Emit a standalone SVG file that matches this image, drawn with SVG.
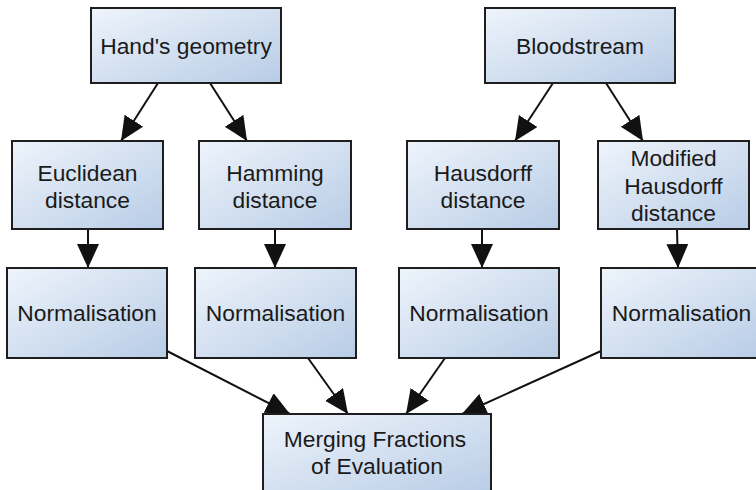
<svg xmlns="http://www.w3.org/2000/svg" width="756" height="490" viewBox="0 0 756 490">
  <style>
    .box { fill: url(#boxFill); stroke: #1e1e1e; stroke-width: 2; }
    .lbl { font-family: "Liberation Sans", Arial, sans-serif; font-size: 22.8px; fill: #1a1a1a; text-anchor: middle; }
    .edge { stroke: #111; stroke-width: 2; fill: none; marker-end: url(#head); }
  </style>
  <defs>
    <linearGradient id="boxFill" x1="0" y1="0" x2="1" y2="1">
      <stop offset="0" stop-color="#eef4fb"/>
      <stop offset="1" stop-color="#b8cce6"/>
    </linearGradient>
    <marker id="head" markerUnits="userSpaceOnUse" markerWidth="26" markerHeight="24" refX="24" refY="11" orient="auto">
      <path d="M0,0 L24,11 L0,22 z" fill="#111"/>
    </marker>
  </defs>

  <rect width="756" height="490" fill="#ffffff"/>

  <!-- connectors -->
  <g id="connectors">
    <line class="edge" x1="158" y1="83" x2="121" y2="141"/>
    <line class="edge" x1="210" y1="83" x2="247" y2="141"/>
    <line class="edge" x1="553" y1="83" x2="515" y2="141"/>
    <line class="edge" x1="606" y1="83" x2="643" y2="141"/>
    <line class="edge" x1="88" y1="229" x2="88" y2="268"/>
    <line class="edge" x1="275" y1="229" x2="275" y2="268"/>
    <line class="edge" x1="482" y1="229" x2="482" y2="268"/>
    <line class="edge" x1="677" y1="229" x2="678" y2="268"/>
    <line class="edge" x1="167" y1="351" x2="290" y2="414"/>
    <line class="edge" x1="308" y1="358" x2="348" y2="414"/>
    <line class="edge" x1="445" y1="358" x2="406" y2="414"/>
    <line class="edge" x1="601" y1="351" x2="462" y2="414"/>
  </g>

  <!-- top row -->
  <g id="hands-geometry">
    <rect class="box" x="91" y="8" width="190" height="75"/>
    <text class="lbl" x="186" y="54">Hand's geometry</text>
  </g>
  <g id="bloodstream">
    <rect class="box" x="485" y="8" width="190" height="75"/>
    <text class="lbl" x="580" y="54">Bloodstream</text>
  </g>

  <!-- distance measures -->
  <g id="euclidean">
    <rect class="box" x="12" y="141" width="151" height="88"/>
    <text class="lbl" x="87.5" y="181">Euclidean</text>
    <text class="lbl" x="87.5" y="208">distance</text>
  </g>
  <g id="hamming">
    <rect class="box" x="199" y="141" width="152" height="88"/>
    <text class="lbl" x="275" y="181">Hamming</text>
    <text class="lbl" x="275" y="208">distance</text>
  </g>
  <g id="hausdorff">
    <rect class="box" x="407" y="141" width="152" height="88"/>
    <text class="lbl" x="483" y="181">Hausdorff</text>
    <text class="lbl" x="483" y="208">distance</text>
  </g>
  <g id="modified-hausdorff">
    <rect class="box" x="598" y="141" width="151" height="88"/>
    <text class="lbl" x="673.5" y="166">Modified</text>
    <text class="lbl" x="673.5" y="194">Hausdorff</text>
    <text class="lbl" x="673.5" y="221">distance</text>
  </g>

  <!-- normalisation -->
  <g id="norm-1">
    <rect class="box" x="7" y="268" width="160" height="90"/>
    <text class="lbl" x="87" y="321">Normalisation</text>
  </g>
  <g id="norm-2">
    <rect class="box" x="195" y="268" width="161" height="90"/>
    <text class="lbl" x="275.5" y="321">Normalisation</text>
  </g>
  <g id="norm-3">
    <rect class="box" x="399" y="268" width="160" height="90"/>
    <text class="lbl" x="479" y="321">Normalisation</text>
  </g>
  <g id="norm-4">
    <rect class="box" x="601" y="268" width="161" height="90"/>
    <text class="lbl" x="681.5" y="321">Normalisation</text>
  </g>

  <!-- result -->
  <g id="merging">
    <rect class="box" x="263" y="414" width="228" height="82"/>
    <text class="lbl" x="375" y="447">Merging Fractions</text>
    <text class="lbl" x="377" y="474">of Evaluation</text>
  </g>
</svg>
